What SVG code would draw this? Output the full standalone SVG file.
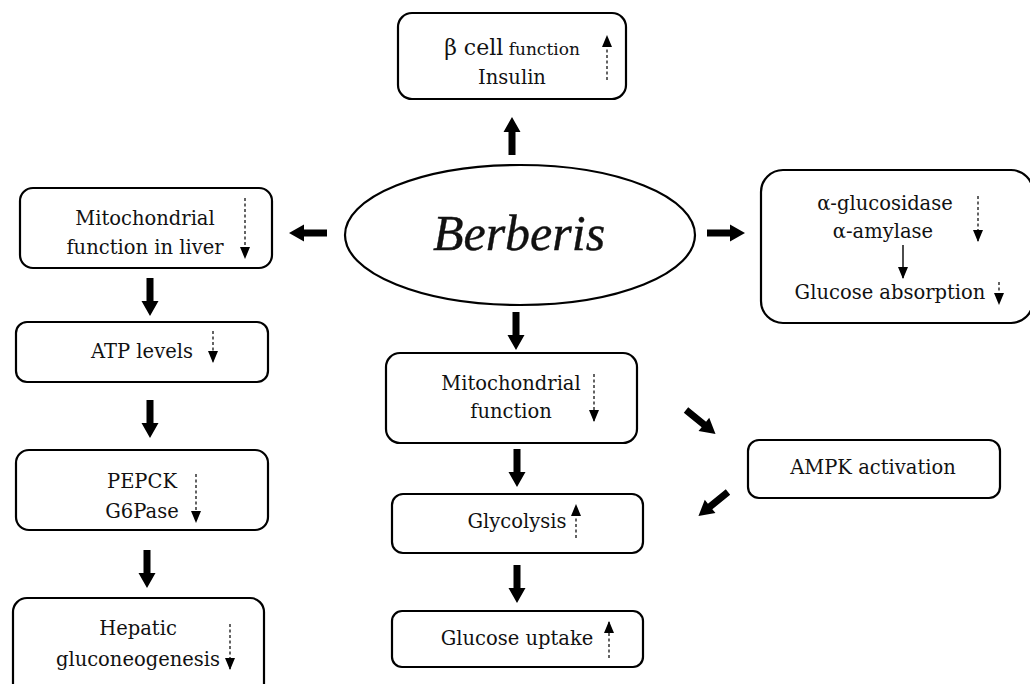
<svg xmlns="http://www.w3.org/2000/svg" xmlns:xlink="http://www.w3.org/1999/xlink" width="1030" height="684" viewBox="0 0 1030 684">
<style>
.box{fill:#fff;stroke:#000;stroke-width:2.2}
.t{font-family:"DejaVu Serif","Liberation Serif",serif;font-size:19.5px;fill:#111;text-anchor:middle}
.dash{stroke:#222;stroke-width:1.4;stroke-dasharray:3,2.5;fill:none}
.solid{stroke:#000;stroke-width:1.4;fill:none}
.thick{fill:#000}
</style>
<defs>
<marker id="tri" viewBox="0 0 12 10" refX="11" refY="5" markerWidth="12" markerHeight="10" markerUnits="userSpaceOnUse" orient="auto">
<path d="M0,0 L12,5 L0,10 Z" fill="#000"/>
</marker>
<path id="th" d="M0,-3.5 H23 V-8.5 L38,0 L23,8.5 V3.5 H0 Z"/>
</defs>
<rect width="1030" height="684" fill="#fff"/>

<g id="connectors">
<use xlink:href="#th" class="thick" transform="translate(512,155) rotate(-90)"/>
<use xlink:href="#th" class="thick" transform="translate(327,233) rotate(180)"/>
<use xlink:href="#th" class="thick" transform="translate(707,233)"/>
<use xlink:href="#th" class="thick" transform="translate(150,278) rotate(90)"/>
<use xlink:href="#th" class="thick" transform="translate(150,400) rotate(90)"/>
<use xlink:href="#th" class="thick" transform="translate(147,550) rotate(90)"/>
<use xlink:href="#th" class="thick" transform="translate(516,312) rotate(90)"/>
<use xlink:href="#th" class="thick" transform="translate(517,449) rotate(90)"/>
<use xlink:href="#th" class="thick" transform="translate(517,565) rotate(90)"/>
<use xlink:href="#th" class="thick" transform="translate(686,410) rotate(39)"/>
<use xlink:href="#th" class="thick" transform="translate(728,492) rotate(141)"/>
</g>

<g id="beta">
<rect class="box" x="398" y="13" width="228" height="86" rx="14"/>
<text class="t" x="512" y="55"><tspan font-size="22">β cell</tspan><tspan font-size="17"> function</tspan></text>
<text class="t" x="512" y="84" font-size="21">Insulin</text>
<line class="dash" x1="607" y1="80" x2="607" y2="36" marker-end="url(#tri)"/>
</g>

<g id="berberis">
<ellipse cx="520" cy="235" rx="175" ry="70" fill="#fff" stroke="#000" stroke-width="2.2"/>
<text x="519" y="250" font-family="Liberation Serif,serif" font-style="italic" font-size="50" text-anchor="middle" fill="#111" stroke="#111" stroke-width="0.4">Berberis</text>
</g>

<g id="mito-liver">
<rect class="box" x="20" y="188" width="252" height="80" rx="13"/>
<text class="t" x="145" y="225">Mitochondrial</text>
<text class="t" x="145" y="254">function in liver</text>
<line class="dash" x1="245" y1="198" x2="245" y2="258" marker-end="url(#tri)"/>
</g>

<g id="glucosidase">
<rect class="box" x="761" y="170" width="272" height="153" rx="22"/>
<text class="t" x="885" y="210">α-glucosidase</text>
<text class="t" x="883" y="238">α-amylase</text>
<line class="solid" x1="903" y1="245" x2="903" y2="278" marker-end="url(#tri)"/>
<text class="t" x="890" y="299">Glucose absorption</text>
<line class="dash" x1="978" y1="196" x2="978" y2="241" marker-end="url(#tri)"/>
<line class="dash" x1="999" y1="282" x2="999" y2="304" marker-end="url(#tri)"/>
</g>

<g id="atp">
<rect class="box" x="16" y="322" width="252" height="60" rx="11"/>
<text class="t" x="142" y="358">ATP levels</text>
<line class="dash" x1="213" y1="331" x2="213" y2="362" marker-end="url(#tri)"/>
</g>

<g id="pepck">
<rect class="box" x="16" y="450" width="252" height="80" rx="13"/>
<text class="t" x="142" y="488">PEPCK</text>
<text class="t" x="142" y="518">G6Pase</text>
<line class="dash" x1="196" y1="474" x2="196" y2="522" marker-end="url(#tri)"/>
</g>

<g id="hepatic">
<rect class="box" x="13" y="598" width="251" height="100" rx="14"/>
<text class="t" x="138" y="635">Hepatic</text>
<text class="t" x="138" y="666">gluconeogenesis</text>
<line class="dash" x1="230" y1="624" x2="230" y2="669" marker-end="url(#tri)"/>
</g>

<g id="mito">
<rect class="box" x="386" y="353" width="251" height="90" rx="14"/>
<text class="t" x="511" y="390">Mitochondrial</text>
<text class="t" x="511" y="418">function</text>
<line class="dash" x1="594" y1="374" x2="594" y2="421" marker-end="url(#tri)"/>
</g>

<g id="glycolysis">
<rect class="box" x="392" y="494" width="251" height="59" rx="11"/>
<text class="t" x="517" y="528">Glycolysis</text>
<line class="dash" x1="576" y1="538" x2="576" y2="505" marker-end="url(#tri)"/>
</g>

<g id="uptake">
<rect class="box" x="392" y="611" width="251" height="56" rx="10"/>
<text class="t" x="517" y="645">Glucose uptake</text>
<line class="dash" x1="609" y1="658" x2="609" y2="622" marker-end="url(#tri)"/>
</g>

<g id="ampk">
<rect class="box" x="748" y="440" width="252" height="58" rx="11"/>
<text class="t" x="873" y="474">AMPK activation</text>
</g>
</svg>
